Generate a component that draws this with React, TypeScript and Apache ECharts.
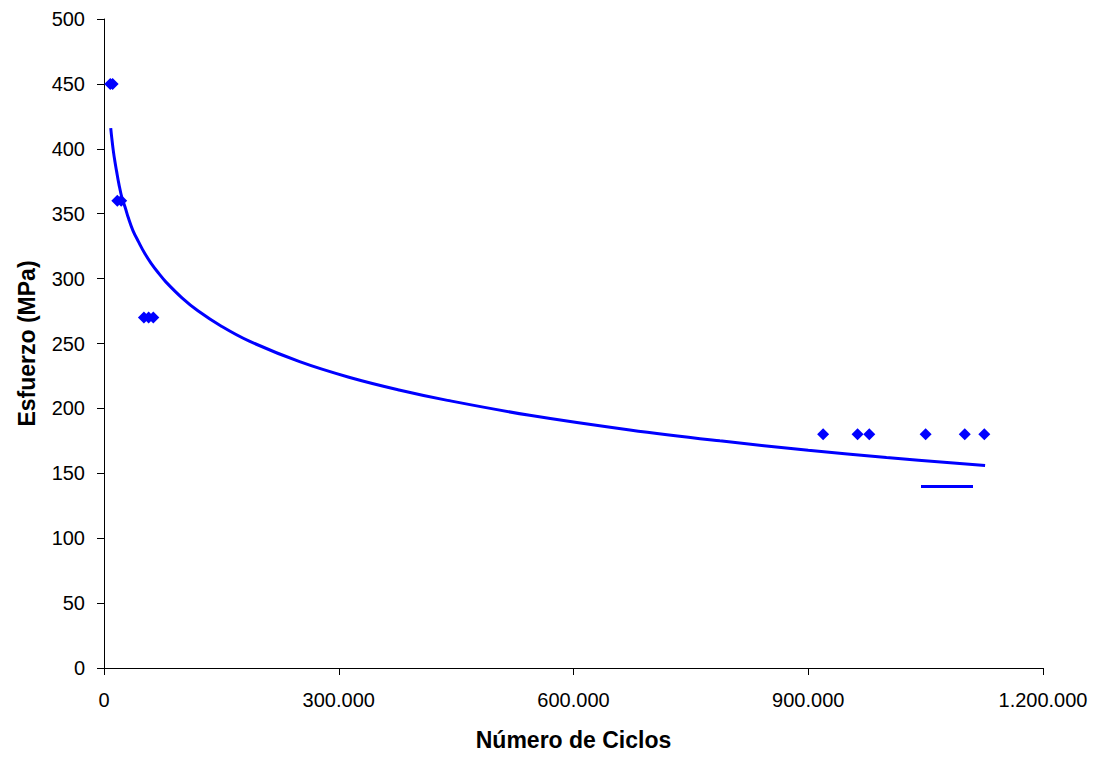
import { useEffect, useRef } from "react";
import * as echarts from "echarts";

// Fatigue test results: cycles to failure vs. applied stress
const cycles = [8000, 11000, 17000, 22000, 51000, 57000, 63000, 919000, 963000, 978000, 1050000, 1100000, 1125000];
const stress = [450, 450, 360, 360, 270, 270, 270, 180, 180, 180, 180, 180, 180];

// Logarithmic trend line samples
const trendCycles = [8600, 10000, 12000, 14000, 16000, 19000, 23000, 27000, 31000, 37000, 44000, 52000, 60000, 70000, 79000, 100000, 120000, 150000, 185000, 250000, 313000, 377000, 439000, 544000, 672000, 787000, 900000, 1000000, 1126000];
const trendStress = [416, 408, 398, 390, 383, 373, 362, 355, 347, 337, 328.5, 319.5, 312, 304, 297.5, 285, 275.2, 263.3, 252, 236, 224, 214.2, 206.2, 194.7, 183.4, 175, 167.8, 162.2, 156];

const xAxisTitle = "Número de Ciclos";
const yAxisTitle = "Esfuerzo (MPa)";
const trendName = "Logarítmica (Esfuerzo)";

const FONT = "'Liberation Sans', Arial, Helvetica, sans-serif";
const BLUE = "#0000ff";

const formatThousands = (v: number) =>
  String(Math.round(v)).replace(/\B(?=(\d{3})+(?!\d))/g, ".");

export default function App() {
  const ref = useRef<HTMLDivElement>(null);

  useEffect(() => {
    if (!ref.current) return;
    const chart = echarts.init(ref.current, null, { renderer: "svg" });

    const axisCommon = {
      axisLine: { show: true, lineStyle: { color: "#000", width: 1 } },
      axisTick: { show: true, inside: false, length: 7, lineStyle: { color: "#000" } },
      splitLine: { show: false },
      nameLocation: "middle" as const,
      nameTextStyle: { fontFamily: FONT, fontSize: 23, fontWeight: "bold" as const, color: "#000" },
    };

    chart.setOption({
      animation: false,
      backgroundColor: "#fff",
      grid: { left: 104, right: 56, top: 19, bottom: 90, containLabel: false },
      legend: {
        show: true,
        data: [trendName],
        left: 921,
        top: 485,
        padding: 0,
        icon: "rect",
        itemWidth: 52,
        itemHeight: 3,
        itemGap: 0,
        formatter: () => "",
        selectedMode: false,
        textStyle: { fontSize: 1 },
      },
      xAxis: {
        type: "value",
        min: 0,
        max: 1200000,
        interval: 300000,
        ...axisCommon,
        name: xAxisTitle,
        nameGap: 60,
        axisLabel: {
          margin: 22,
          fontFamily: FONT,
          fontSize: 20,
          color: "#000",
          formatter: (v: number) => formatThousands(v),
        },
      },
      yAxis: {
        type: "value",
        min: 0,
        max: 500,
        interval: 50,
        ...axisCommon,
        name: yAxisTitle,
        nameGap: 66,
        nameRotate: 90,
        axisLabel: {
          margin: 19,
          fontFamily: FONT,
          fontSize: 20,
          color: "#000",
        },
      },
      series: [
        {
          name: trendName,
          type: "line",
          data: trendCycles.map((c, i) => [c, trendStress[i]]),
          smooth: 0.4,
          showSymbol: false,
          symbol: "none",
          lineStyle: { color: BLUE, width: 3 },
          itemStyle: { color: BLUE },
          z: 2,
        },
        {
          name: "Esfuerzo",
          type: "scatter",
          data: cycles.map((c, i) => [c, stress[i]]),
          symbol: "diamond",
          symbolSize: 12,
          itemStyle: { color: BLUE, opacity: 1 },
          z: 3,
        },
      ],
    });

    return () => chart.dispose();
  }, []);

  return (
    <div
      ref={ref}
      style={{ position: "fixed", left: 0, top: 0, width: 1099, height: 758, background: "#fff" }}
    />
  );
}
